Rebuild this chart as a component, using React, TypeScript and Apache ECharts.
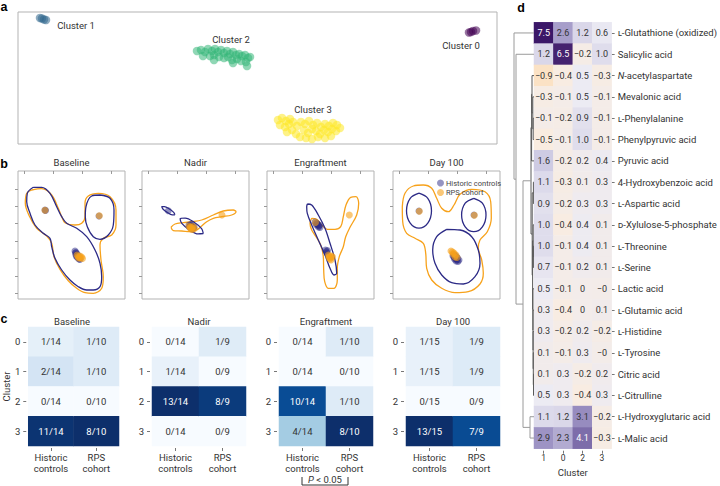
import React, { useEffect, useRef } from 'react';
import * as echarts from 'echarts';

const FONT = 'Roboto, "Noto Sans", "DejaVu Sans", sans-serif';
const TXT = '#333333';
const NAVY = '#2c2a86';
const ORANGE = '#f7a21b';
const VIRIDIS = ['#440154', '#31688e', '#35b779', '#fde725'];

// ---------- panel a: embedding (box units, y downward)
const umapCluster0 = [[451, 20.5], [453, 20], [455, 19], [458, 18.5]];
const umapCluster1 = [[22, 6], [24, 6.5], [26, 7.5], [28, 8]];
const umapCluster2 = [[179, 39], [183, 38], [187, 40], [190, 37], [194, 39], [197, 37], [200, 40], [203, 38], [206, 41], [209, 39], [212, 42], [215, 40], [218, 43], [221, 42], [224, 44], [227, 43], [230, 46], [232, 45], [192, 44], [196, 43], [201, 45], [206, 46], [210, 45], [214, 48], [219, 47], [223, 49], [228, 50], [229, 54], [215, 51], [185, 44], [196, 48]];
const umapCluster3 = [[260, 108], [264, 106], [268, 109], [272, 107], [262, 113], [267, 115], [271, 112], [275, 110], [279, 114], [283, 110], [287, 112], [291, 109], [295, 113], [299, 111], [303, 115], [307, 112], [311, 114], [315, 111], [319, 113], [322, 116], [286, 118], [290, 121], [294, 117], [298, 119], [302, 122], [306, 118], [310, 120], [314, 117], [318, 119], [274, 118], [278, 122], [282, 125], [288, 126], [294, 127], [300, 125], [307, 126], [313, 124], [269, 120]];
const umapLabels = ['Cluster 0', 'Cluster 1', 'Cluster 2', 'Cluster 3'];
const umapLabelPos = [[461, 45], [76, 25], [231, 39], [313, 109]];

// ---------- panel b: density contours + cohort points (box units 107 x 128, y downward)
const timepoints = ['Baseline', 'Nadir', 'Engraftment', 'Day 100'];
const bTicksX = [6, 35, 64, 93];
const bTicksY = [18, 35, 52, 70, 87, 105, 122];

const baselineHistContours = [
  [[15.3, 16.3], [23.7, 16.3], [32, 22.3], [38.7, 35.7], [43.7, 45.7], [48.7, 52.3], [58.7, 57.3], [68.7, 65.7], [77, 79], [82, 92.3], [83.7, 105.7], [82, 115.7], [75.3, 119], [68.7, 119], [60.3, 115.7], [52, 109], [43.7, 99], [37, 87.3], [33.7, 75.7], [32, 67.3], [25.3, 62.3], [17, 54], [12, 42.3], [8.7, 30.7], [9.3, 22.3]],
  [[82, 24], [92, 27.3], [96, 39], [95.3, 54], [90.3, 64], [82, 68.3], [75.3, 65.7], [69.3, 55.7], [67.3, 45.7], [68, 35.7], [73.7, 25]],
];
const baselineRpsContours = [
  [[13.7, 19], [23.7, 17.7], [33.7, 24], [40.3, 37.3], [43.7, 45.7], [47, 51.7], [57, 54], [63.7, 52.3], [67, 45.7], [67, 32.3], [70.3, 25], [80.3, 22.3], [92, 25.7], [98, 39], [98, 54], [93.7, 64], [85.3, 67.3], [82, 74], [83, 89], [85.3, 105.7], [83.7, 117.3], [75.3, 122.3], [67, 121.7], [58.7, 117.3], [50.3, 109.7], [42, 98.3], [36, 85.7], [33.7, 72.3], [28.7, 65], [18.7, 57.3], [11.3, 45], [7.3, 32.3], [8.7, 22.3]],
];
const nadirHistContours = [
  [[32.9, 43.8], [30.2, 43.8], [25.2, 41.4], [20.9, 38.0], [19.7, 35.6], [22.4, 35.6], [27.4, 38.0], [31.7, 41.4]],
  [[61.3, 62.5], [56.2, 62.9], [47.3, 58.8], [39.8, 52.4], [38.1, 47.6], [43.2, 47.1], [52.1, 51.2], [59.6, 57.6]],
];
const nadirRpsContours = [
  [[29, 56.3], [33, 53], [41.3, 51.7], [49.7, 50.7], [59.7, 49], [71.3, 44], [81.3, 40], [91.3, 39], [94, 40.7], [89.7, 44], [79.7, 45.7], [71.3, 47.3], [64.7, 50.7], [59.7, 55], [54.7, 59], [48, 60.7], [39.7, 60], [31.3, 59.7]],
];
const engraftHistContours = [
  [[40.3, 33], [44.7, 34], [51.3, 44], [58, 57.3], [63, 72.3], [68, 89], [69.7, 102.3], [67, 104], [63, 97.3], [58, 84], [51.3, 69], [44.7, 54], [40.3, 42.3], [39.7, 35.7]],
];
const engraftRpsContours = [
  [[44.7, 47.3], [49.7, 48.3], [54.7, 54], [60.3, 58.3], [68, 58.3], [73.7, 55.7], [76.3, 45.7], [79, 34], [83.7, 26.3], [89, 25.7], [91.7, 32.3], [89.7, 44], [83, 56.3], [78.7, 65.7], [76.3, 75.7], [72.3, 85.7], [70.3, 97.3], [70.3, 109], [67, 117.3], [61.3, 117.3], [57.7, 110.7], [56.7, 99], [56.3, 85.7], [53.7, 74], [49, 65.7], [44.7, 59], [43, 52.3]],
];
const day100HistContours = [
  [[26, 22.2], [34.8, 27.3], [38.5, 39.7], [34.8, 52.1], [26, 57.2], [17.2, 52.1], [13.5, 39.7], [17.2, 27.3]],
  [[80.8, 27.3], [89.4, 32.2], [93, 44], [89.4, 55.8], [80.8, 60.7], [72.2, 55.8], [68.6, 44], [72.2, 32.2]],
  [[53.7, 58.3], [67, 59], [78.7, 65.7], [85.3, 79], [87, 92.3], [82, 105.7], [70.3, 113], [58.7, 111.7], [48.7, 104], [42, 92.3], [39.7, 79], [43.7, 65.7]],
];
const day100RpsContours = [
  [[9.3, 35.7], [12, 22.3], [20.3, 15], [30.3, 14], [38.7, 17.3], [43.7, 27.3], [48.7, 37.3], [55.3, 40.7], [61, 34], [67, 23.3], [78.7, 18.3], [92, 20.7], [97.7, 30.7], [98.3, 47.3], [94.3, 60.7], [87, 69], [85.3, 77.3], [88.7, 89], [90.3, 102.3], [87, 113], [75.3, 120.7], [62, 121.7], [48.7, 117.3], [38.7, 109], [33.7, 97.3], [32.7, 82.3], [30.3, 72.3], [22, 67.3], [13.7, 62.3], [9.7, 50.7]],
];

const baselineHistPts = [[27, 39], [27.5, 39.5], [81, 45], [57, 80], [57.5, 82], [58, 84], [58.5, 85.5], [59, 83], [59.5, 86], [60, 87], [61, 88], [58, 81.5], [60.5, 85], [62, 88.5]];
const baselineRpsPts = [[27, 39.2], [81.3, 44.7], [59, 84], [60, 85.5], [61.5, 86.5], [62.5, 87], [63.5, 86], [64.5, 87.5], [60.5, 87], [62, 85]];
const nadirHistPts = [[26.3, 39.7], [47, 54], [48, 55], [49, 55.5], [50, 56], [51, 56.5], [48.5, 54], [49.5, 57], [50.5, 55], [47.5, 56], [51.5, 57], [49, 53.5], [50, 58], [52, 56]];
const nadirRpsPts = [[80, 44], [47, 55], [48.5, 56], [50, 57], [51, 55.5], [52.5, 57.5], [49, 58], [50.5, 58.5], [48, 57]];
const engraftHistPts = [[48, 51], [49, 52], [50, 53], [51, 54], [52, 55], [50, 52.5], [51.5, 56], [53, 56.5], [49.5, 54], [52.5, 54], [58.5, 79], [59.5, 80.5], [60, 82], [60.5, 79.5]];
const engraftRpsPts = [[82.3, 44], [48.5, 51.5], [61.5, 84], [62.5, 85.5], [63.5, 86.5], [64.5, 85], [65.5, 86], [63, 88], [64, 89], [62, 86.5]];
const day100HistPts = [[26, 40], [81, 44], [60, 85], [61, 86], [62, 87], [63, 88], [64, 89], [61.5, 88], [63, 90], [65, 90.5], [62, 84.5], [64.5, 87], [60.5, 83.5], [66, 89], [63.5, 86]];
const day100RpsPts = [[26.3, 40.3], [81.3, 44.3], [58, 80], [59.5, 81], [61, 82], [63, 84], [60, 83], [62, 86], [64, 86.5]];

// ---------- panel c: cluster membership counts
const cohorts = ['Historic\ncontrols', 'RPS\ncohort'];
const clusterIds = ['0', '1', '2', '3'];
const baselineHist = [1, 2, 0, 11]; const baselineHistN = 14;
const baselineRps = [1, 1, 0, 8]; const baselineRpsN = 10;
const nadirHist = [0, 1, 13, 0]; const nadirHistN = 14;
const nadirRps = [1, 0, 8, 0]; const nadirRpsN = 9;
const engraftHist = [0, 0, 10, 4]; const engraftHistN = 14;
const engraftRps = [1, 0, 1, 8]; const engraftRpsN = 10;
const day100Hist = [1, 1, 0, 13]; const day100HistN = 15;
const day100Rps = [1, 1, 0, 7]; const day100RpsN = 9;

// ---------- panel d: metabolite z-scores by cluster
const dClusters = ['1', '0', '2', '3'];
const metabolites = ['ʟ-Glutathione (oxidized)', 'Salicylic acid', 'N-acetylaspartate', 'Mevalonic acid', 'ʟ-Phenylalanine', 'Phenylpyruvic acid', 'Pyruvic acid', '4-Hydroxybenzoic acid', 'ʟ-Aspartic acid', 'ᴅ-Xylulose-5-phosphate', 'ʟ-Threonine', 'ʟ-Serine', 'Lactic acid', 'ʟ-Glutamic acid', 'ʟ-Histidine', 'ʟ-Tyrosine', 'Citric acid', 'ʟ-Citrulline', 'ʟ-Hydroxyglutaric acid', 'ʟ-Malic acid'];
const metaboliteZ = [
  [7.5, 2.6, 1.2, 0.6],
  [1.2, 6.5, -0.2, 1.0],
  [-0.9, -0.4, 0.5, -0.3],
  [-0.3, -0.1, 0.5, -0.1],
  [-0.1, -0.2, 0.9, -0.1],
  [-0.5, -0.1, 1.0, -0.1],
  [1.6, -0.2, 0.2, 0.4],
  [1.1, -0.3, 0.1, 0.3],
  [0.9, -0.2, 0.3, 0.3],
  [1.0, -0.4, 0.4, 0.1],
  [1.0, -0.1, 0.4, 0.1],
  [0.7, -0.1, 0.2, 0.1],
  [0.5, -0.1, 0, -0.02],
  [0.3, -0.4, 0, 0.1],
  [0.3, -0.2, 0.2, -0.2],
  [0.1, -0.1, 0.3, -0.02],
  [0.1, 0.3, -0.2, 0.2],
  [0.5, 0.3, -0.4, 0.3],
  [1.1, 1.2, 3.1, -0.2],
  [2.9, 2.3, 4.1, -0.3],
];
// dendrogram linkage: [childA, childB, height]; leaves 0..19, merges numbered from 20
const dendroLinkage = [
  [4, 5, 0.8], [3, 20, 1.2], [2, 21, 2.0], [22, 6, 2.4],
  [7, 8, 0.6], [10, 11, 0.6], [9, 25, 0.8], [16, 17, 0.5], [15, 27, 0.7], [14, 28, 0.9],
  [13, 29, 1.0], [12, 30, 1.1], [26, 31, 1.4], [24, 32, 1.8],
  [23, 33, 3.0], [18, 19, 4.0], [34, 35, 11], [1, 36, 18], [0, 37, 20],
];

const BLUES = ['#f7fbff', '#deebf7', '#c6dbef', '#9ecae1', '#6baed6', '#4292c6', '#2171b5', '#08519c', '#0d2f6b'];
const PUOR = ['#7f3b08', '#9a4a07', '#b35806', '#cc6d10', '#e08214', '#f0a145', '#fdd39c', '#f9ece0', '#ecebf3', '#d2cfe5', '#aaa2cc', '#8a7db7', '#7462a2', '#5a3f88', '#45226f', '#3b1768'];

function fmtZ(v: number) {
  if (Math.abs(v) < 0.05) return v < 0 ? '\u22120' : '0';
  return v.toFixed(1).replace('-', '\u2212');
}

function buildOption() {
  const grid: any[] = [];
  const xAxis: any[] = [];
  const yAxis: any[] = [];
  const series: any[] = [];
  const visualMap: any[] = [];
  const graphic: any[] = [];

  const text = (x: number, y: number, t: string, size = 9.5, extra: any = {}) => ({
    type: 'text', x, y, silent: true,
    style: { text: t, x: 0, y: 0, align: 'center', verticalAlign: 'middle', fontSize: size, fontFamily: FONT, fill: TXT, ...extra },
  });

  // ---- panel a
  grid.push({ left: 18, top: 12, width: 479, height: 132, show: true, borderColor: '#b3b3b3', borderWidth: 1 });
  xAxis.push({ type: 'value', gridIndex: 0, min: 0, max: 479, show: false });
  yAxis.push({ type: 'value', gridIndex: 0, min: 0, max: 132, inverse: true, show: false });
  [umapCluster0, umapCluster1, umapCluster2, umapCluster3].forEach((pts, i) => {
    series.push({ type: 'scatter', xAxisIndex: 0, yAxisIndex: 0, data: pts, symbolSize: 8.5, silent: true, itemStyle: { color: VIRIDIS[i], opacity: 0.55 } });
  });
  umapLabels.forEach((l, i) => graphic.push(text(umapLabelPos[i][0], umapLabelPos[i][1], l)));

  // ---- panel b
  const bLeft = [18, 142, 267, 393];
  const bHist = [baselineHistContours, nadirHistContours, engraftHistContours, day100HistContours];
  const bRps = [baselineRpsContours, nadirRpsContours, engraftRpsContours, day100RpsContours];
  const bHistPts = [baselineHistPts, nadirHistPts, engraftHistPts, day100HistPts];
  const bRpsPts = [baselineRpsPts, nadirRpsPts, engraftRpsPts, day100RpsPts];
  for (let k = 0; k < 4; k++) {
    const gi = 1 + k;
    grid.push({ left: bLeft[k], top: 171, width: 107, height: 128, show: true, borderColor: '#b3b3b3', borderWidth: 1 });
    xAxis.push({ type: 'value', gridIndex: gi, min: 0, max: 107, axisLine: { show: false }, splitLine: { show: false }, axisLabel: { show: false },
      axisTick: { show: true, length: 3, customValues: bTicksX, lineStyle: { color: '#999' } } });
    yAxis.push({ type: 'value', gridIndex: gi, min: 0, max: 128, inverse: true, axisLine: { show: false }, splitLine: { show: false }, axisLabel: { show: false },
      axisTick: { show: true, length: 3, customValues: bTicksY, lineStyle: { color: '#999' } } });
    const addContours = (curves: number[][][], color: string) => curves.forEach((c) => series.push({
      type: 'line', xAxisIndex: gi, yAxisIndex: gi, data: [...c, c[0]], smooth: 0.35, symbol: 'none', silent: true,
      lineStyle: { color, width: 1.3 }, z: 2,
    }));
    addContours(bRps[k], ORANGE);
    addContours(bHist[k], NAVY);
    series.push({ type: 'scatter', name: 'Historic controls', xAxisIndex: gi, yAxisIndex: gi, data: bHistPts[k], symbolSize: 7, silent: true, itemStyle: { color: NAVY, opacity: 0.5 }, z: 3 });
    series.push({ type: 'scatter', name: 'RPS cohort', xAxisIndex: gi, yAxisIndex: gi, data: bRpsPts[k], symbolSize: 7, silent: true, itemStyle: { color: ORANGE, opacity: 0.6 }, z: 3 });
    graphic.push(text(bLeft[k] + 53.5, 162, timepoints[k]));
  }

  // ---- panel c
  const cLeft = [25, 152, 279, 406];
  const cHist = [baselineHist, nadirHist, engraftHist, day100Hist];
  const cHistN = [baselineHistN, nadirHistN, engraftHistN, day100HistN];
  const cRps = [baselineRps, nadirRps, engraftRps, day100Rps];
  const cRpsN = [baselineRpsN, nadirRpsN, engraftRpsN, day100RpsN];
  for (let k = 0; k < 4; k++) {
    const gi = 5 + k;
    grid.push({ left: cLeft[k], top: 327, width: 94, height: 119 });
    xAxis.push({ type: 'category', gridIndex: gi, data: cohorts, offset: 2, axisLine: { show: false },
      axisTick: { show: true, alignWithLabel: true, length: 3, lineStyle: { color: '#777' } },
      axisLabel: { fontSize: 9.5, fontFamily: FONT, color: TXT, lineHeight: 11, margin: 4 } });
    yAxis.push({ type: 'category', gridIndex: gi, data: clusterIds, inverse: true, offset: 2, axisLine: { show: false },
      axisTick: { show: true, alignWithLabel: true, length: 3, lineStyle: { color: '#777' } },
      axisLabel: { fontSize: 9.5, fontFamily: FONT, color: TXT, margin: 6 },
      name: k === 0 ? 'Cluster' : '', nameLocation: 'middle', nameGap: 13, nameRotate: 90,
      nameTextStyle: { fontSize: 9.5, fontFamily: FONT, color: TXT } });
    const fr: number[] = [];
    cHist[k].forEach((c) => fr.push(c / cHistN[k]));
    cRps[k].forEach((c) => fr.push(c / cRpsN[k]));
    const maxF = Math.max(...fr);
    const data: any[] = [];
    cHist[k].forEach((c, r) => { const f = c / cHistN[k]; data.push({ value: [0, r, f], txt: `${c}/${cHistN[k]}`, label: { color: f > 0.55 * maxF ? '#ffffff' : TXT } }); });
    cRps[k].forEach((c, r) => { const f = c / cRpsN[k]; data.push({ value: [1, r, f], txt: `${c}/${cRpsN[k]}`, label: { color: f > 0.55 * maxF ? '#ffffff' : TXT } }); });
    visualMap.push({ show: false, type: 'continuous', seriesIndex: series.length, dimension: 2, min: 0, max: maxF, inRange: { color: BLUES } });
    series.push({ type: 'heatmap', xAxisIndex: gi, yAxisIndex: gi, data, silent: true, emphasis: { disabled: true },
      label: { show: true, fontSize: 9.5, fontFamily: FONT, formatter: (p: any) => p.data.txt } });
    graphic.push(text(cLeft[k] + 47, 321, timepoints[k]));
  }

  // ---- panel d heatmap
  grid.push({ left: 534, top: 22.3, width: 80, height: 426.4 });
  xAxis.push({ type: 'category', gridIndex: 9, data: dClusters, offset: 2, axisLine: { show: false },
    axisTick: { show: true, alignWithLabel: true, length: 3, lineStyle: { color: '#777' } },
    axisLabel: { fontSize: 8.5, fontFamily: FONT, color: TXT, margin: 3 },
    name: 'Cluster', nameLocation: 'middle', nameGap: 15, nameTextStyle: { fontSize: 9.5, fontFamily: FONT, color: TXT } });
  yAxis.push({ type: 'category', gridIndex: 9, data: metabolites, inverse: true, position: 'right', axisLine: { show: false },
    axisTick: { show: true, alignWithLabel: true, length: 3, lineStyle: { color: '#777' } },
    axisLabel: { interval: 0, fontSize: 9.5, fontFamily: FONT, color: TXT, margin: 6,
      formatter: (v: string) => (v.startsWith('N-') ? '{i|N}' + v.slice(1) : v),
      rich: { i: { fontStyle: 'italic', fontSize: 9.5, fontFamily: FONT, color: TXT } } } });
  const dData: any[] = [];
  metaboliteZ.forEach((row, r) => row.forEach((v, c) => dData.push({ value: [c, r, v], label: { color: v >= 4 ? '#ffffff' : TXT } })));
  visualMap.push({ show: false, type: 'continuous', seriesIndex: series.length, dimension: 2, min: -7.5, max: 7.5, inRange: { color: PUOR } });
  series.push({ type: 'heatmap', xAxisIndex: 9, yAxisIndex: 9, data: dData, silent: true, emphasis: { disabled: true },
    label: { show: true, fontSize: 9, fontFamily: FONT, formatter: (p: any) => fmtZ(p.data.value[2]) } });

  // ---- panel d dendrogram
  grid.push({ left: 513, top: 22.3, width: 21, height: 426.4 });
  xAxis.push({ type: 'value', gridIndex: 10, min: 0, max: 21, inverse: true, show: false });
  yAxis.push({ type: 'value', gridIndex: 10, min: -0.5, max: 19.5, inverse: true, show: false });
  const pos: number[] = []; const hgt: number[] = [];
  for (let i = 0; i < metabolites.length; i++) { pos[i] = i; hgt[i] = 0; }
  const lines: any[] = [];
  dendroLinkage.forEach(([a, b, h], j) => {
    const id = metabolites.length + j;
    pos[id] = (pos[a] + pos[b]) / 2; hgt[id] = h;
    lines.push({ coords: [[hgt[a], pos[a]], [h, pos[a]], [h, pos[b]], [hgt[b], pos[b]]], lineStyle: { color: h >= 4 ? '#9a9a9a' : '#5a5a5a' } });
  });
  series.push({ type: 'lines', coordinateSystem: 'cartesian2d', xAxisIndex: 10, yAxisIndex: 10, polyline: true, silent: true, data: lines, lineStyle: { width: 1, opacity: 1 } });

  // ---- panel letters and annotation
  const letter = (x: number, y: number, t: string) => text(x, y, t, 12.5, { fontWeight: 'bold', fontFamily: 'Liberation Sans, Arial, sans-serif', fill: '#000' });
  graphic.push(letter(4, 7, 'a'), letter(4, 164, 'b'), letter(4, 319, 'c'), letter(521, 8, 'd'));
  graphic.push({ type: 'polyline', silent: true, shape: { points: [[302, 477], [302, 485], [348, 485], [348, 477]] }, style: { stroke: '#333', lineWidth: 1, fill: 'none' } });
  graphic.push({ type: 'text', x: 325, y: 479, silent: true, style: { text: '{i|P} < 0.05', x: 0, y: 0, align: 'center', verticalAlign: 'middle', fontSize: 9.5, fontFamily: FONT, fill: TXT,
    rich: { i: { fontStyle: 'italic', fontSize: 9.5, fontFamily: FONT, fill: TXT } } } });

  return {
    animation: false,
    backgroundColor: '#ffffff',
    textStyle: { fontFamily: FONT },
    legend: { data: ['Historic controls', 'RPS cohort'], left: 432, top: 174, orient: 'vertical', itemWidth: 7, itemHeight: 7, itemGap: 1.5,
      icon: 'circle', selectedMode: false, textStyle: { fontSize: 7.5, fontFamily: FONT, color: '#444', padding: [0, 0, 0, -3] } },
    grid, xAxis, yAxis, series, visualMap, graphic,
  };
}

export default function App() {
  const ref = useRef<HTMLDivElement>(null);
  useEffect(() => {
    document.body.style.margin = '0';
    const chart = echarts.init(ref.current!, null, { renderer: 'svg' });
    chart.setOption(buildOption() as any);
    return () => chart.dispose();
  }, []);
  return <div ref={ref} style={{ width: 720, height: 486 }} />;
}
